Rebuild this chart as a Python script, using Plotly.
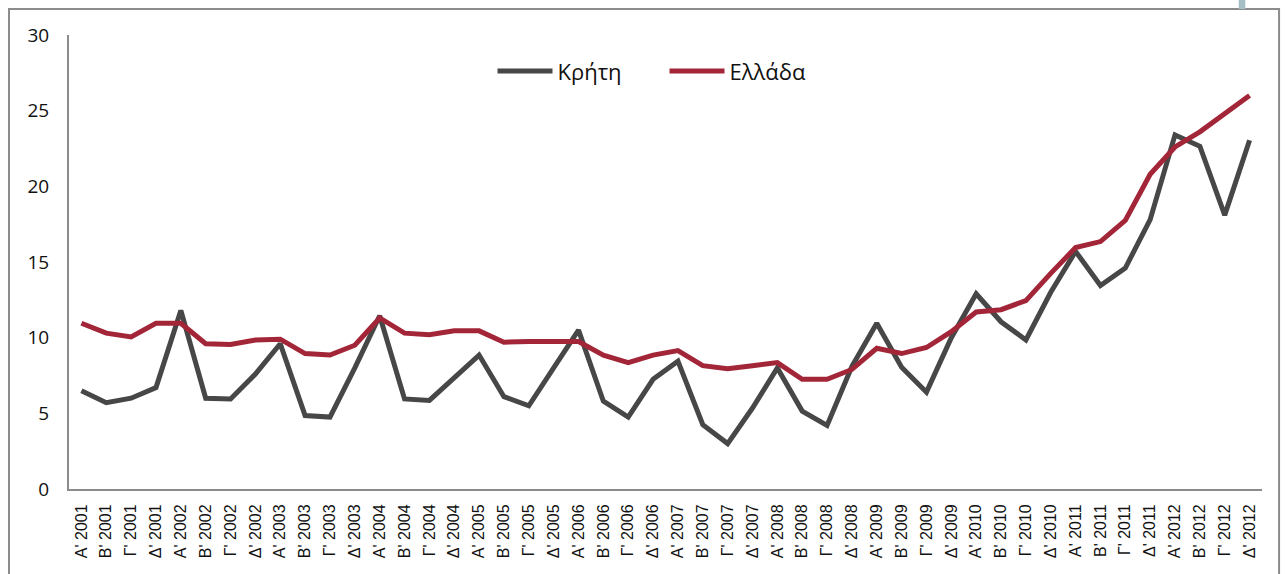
import plotly.graph_objects as go

quarters = ["Α'", "Β'", "Γ'", "Δ'"]
years = list(range(2001, 2013))
categories = [f"{q} {y}" for y in years for q in quarters]

kriti = [6.5, 5.7, 6.0, 6.7, 11.8, 6.0, 5.95, 7.6, 9.6, 4.85, 4.75, 8.0,
         11.45, 5.95, 5.85, 7.4, 8.85, 6.1, 5.5, 8.0, 10.5, 5.8, 4.75, 7.25,
         8.45, 4.25, 3.0, 5.35, 8.0, 5.15, 4.2, 8.1, 10.95, 8.05, 6.4, 10.0,
         12.9, 11.05, 9.85, 13.0, 15.7, 13.45, 14.6, 17.8, 23.4, 22.65, 18.1, 23.05]

ellada = [10.95, 10.3, 10.05, 10.95, 10.95, 9.6, 9.55, 9.85, 9.9, 8.95, 8.85, 9.5,
          11.3, 10.3, 10.2, 10.45, 10.45, 9.7, 9.75, 9.75, 9.75, 8.85, 8.35, 8.85,
          9.15, 8.15, 7.95, 8.15, 8.35, 7.25, 7.25, 7.9, 9.3, 8.95, 9.35, 10.4,
          11.7, 11.85, 12.45, 14.25, 15.95, 16.35, 17.75, 20.8, 22.6, 23.6, 24.8, 26.0]

y_ticks = [0, 5, 10, 15, 20, 25, 30]

GRAY = "#474747"
RED = "#A32638"
AXIS = "#8C8C8C"

fig = go.Figure()
fig.add_trace(go.Scatter(x=categories, y=kriti, name="Κρήτη", mode="lines",
                         line=dict(color=GRAY, width=5)))
fig.add_trace(go.Scatter(x=categories, y=ellada, name="Ελλάδα", mode="lines",
                         line=dict(color=RED, width=5)))

fig.update_layout(
    width=1286, height=574,
    margin=dict(l=69, r=24, t=35, b=85),
    paper_bgcolor="white", plot_bgcolor="white",
    showlegend=True,
    legend=dict(orientation="h", x=0.355, y=0.92, xanchor="left", yanchor="middle",
                font=dict(family="Open Sans, Noto Sans, sans-serif", size=22, color="#111111"),
                bgcolor="rgba(0,0,0,0)", entrywidth=102, itemwidth=55, tracegroupgap=0),
    xaxis=dict(type="category", categoryorder="array", categoryarray=categories,
               showgrid=False, showline=True, linecolor=AXIS, linewidth=2,
               ticks="", tickangle=-90, ticklabelstandoff=7,
               tickfont=dict(family="Liberation Sans, Arial, sans-serif", size=16, color="#111111"),
               range=[-0.5, len(categories) - 0.5], zeroline=False),
    yaxis=dict(range=[0, 30], tickvals=y_ticks, showgrid=False, showline=True,
               linecolor=AXIS, linewidth=2, ticks="", ticklabelstandoff=14,
               tickfont=dict(family="Open Sans, Noto Sans, sans-serif", size=19, color="#111111"),
               zeroline=False),
    shapes=[
        dict(type="rect", xref="paper", yref="paper",
             x0=-0.0503, x1=1.0143, y0=-0.3, y1=1.0573,
             line=dict(color=AXIS, width=2), fillcolor="rgba(0,0,0,0)", layer="below"),
        dict(type="rect", xref="paper", yref="paper",
             x0=0.9805, x1=0.986, y0=1.0573, y1=1.08,
             line=dict(width=0), fillcolor="#A6BEC6", layer="below"),
    ],
)

fig.write_html("out.html", config={"displayModeBar": False},
               post_script="document.body.style.margin='0';")
